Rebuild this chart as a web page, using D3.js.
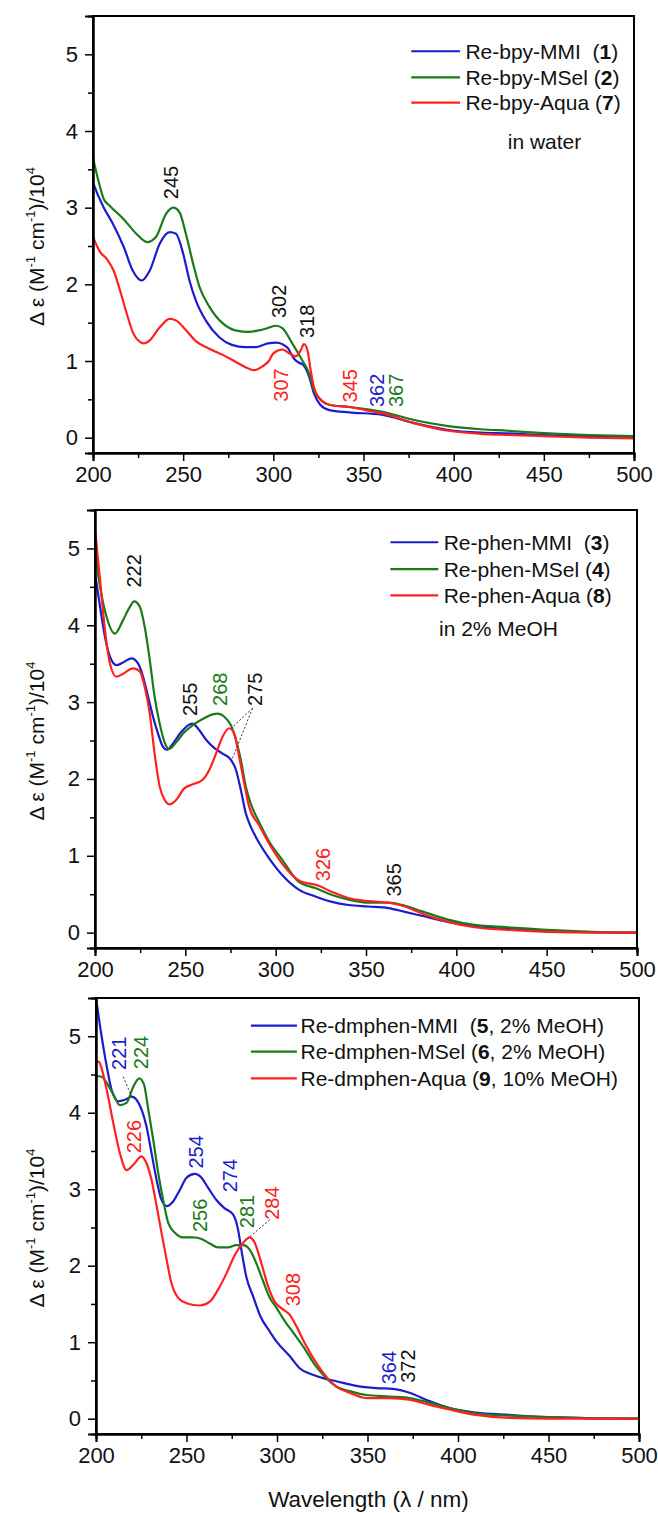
<!DOCTYPE html>
<html>
<head>
<meta charset="utf-8">
<script src="https://cdn.jsdelivr.net/npm/d3@7"></script>
<style>
  html, body { margin: 0; padding: 0; background: #fff; }
  svg { display: block; font-family: Arial, "Liberation Sans", sans-serif; }
  text { white-space: pre; }
</style>
</head>
<body>
<svg id="chart" width="658" height="1513"></svg>
<script>
// ---- data (wavelength nm, Δε / 10^4) ----
const xTicks = [200, 250, 300, 350, 400, 450, 500];
const xMinor = [225, 275, 325, 375, 425, 475];
const yTicks = [0, 1, 2, 3, 4, 5];
const yMinor = [0.5, 1.5, 2.5, 3.5, 4.5];

// panel 1: bpy, in water
const bpyMMI = [[200,3.33],[203,3.15],[206,3.0],[211,2.79],[217,2.49],[222,2.18],[227,2.05],[231.5,2.18],[237,2.53],[242.5,2.68],[246,2.66],[250,2.40],[253.5,2.05],[257,1.79],[262.5,1.53],[270,1.31],[277,1.21],[284.5,1.18],[290,1.18],[297,1.23],[301.5,1.24],[305,1.22],[308,1.17],[311.5,1.03],[314,0.98],[316.5,0.95],[319.8,0.80],[322.5,0.58],[326,0.43],[331,0.36],[342,0.33],[360,0.30],[378,0.19],[397,0.10],[415,0.065],[430,0.055],[450,0.035],[475,0.02],[500,0.01]];
const bpyMSel = [[200,3.65],[203,3.35],[206,3.11],[209.5,3.02],[217,2.85],[224,2.66],[230,2.55],[235,2.62],[240.5,2.92],[244.5,3.0],[248,2.94],[251.5,2.66],[255.5,2.27],[259,1.97],[264.5,1.71],[272,1.49],[279,1.40],[286.5,1.38],[292,1.40],[297,1.43],[301.5,1.46],[305,1.43],[310.5,1.23],[316,1.01],[319.8,0.84],[322.5,0.62],[325.3,0.52],[331,0.43],[342,0.40],[360,0.34],[378,0.23],[397,0.15],[415,0.11],[430,0.09],[450,0.06],[475,0.035],[500,0.02]];
const bpyAqua = [[200,2.62],[204,2.42],[207.7,2.33],[211.4,2.18],[215,1.92],[218.7,1.62],[222.3,1.36],[226,1.25],[228,1.23],[231.5,1.27],[237,1.44],[242.5,1.55],[246,1.53],[251.6,1.40],[257,1.26],[264.5,1.16],[272,1.08],[279,0.99],[284.6,0.92],[289.2,0.88],[294,0.93],[297.5,1.0],[300,1.10],[305,1.15],[308.8,1.10],[312.4,1.06],[315.2,1.14],[317,1.22],[318.9,1.14],[320.7,0.88],[322.5,0.66],[325.3,0.52],[331,0.43],[342,0.40],[351,0.36],[360,0.32],[378,0.19],[397,0.09],[415,0.05],[430,0.035],[450,0.02],[475,0.0],[500,-0.01]];

// panel 2: phen, in 2% MeOH
const phenMMI = [[200,4.68],[202.8,4.24],[205.5,3.85],[208.3,3.59],[211.9,3.48],[216.5,3.53],[220.2,3.57],[223.9,3.50],[226.6,3.33],[229.4,3.07],[232.1,2.81],[234.9,2.59],[237.6,2.42],[239.8,2.38],[243.1,2.46],[247.7,2.61],[252.3,2.71],[254.1,2.72],[256.9,2.66],[261.5,2.51],[266.1,2.40],[270.6,2.33],[275.2,2.25],[278,2.12],[280.7,1.86],[283.5,1.55],[286.2,1.38],[290.8,1.17],[296.3,0.97],[303.6,0.75],[312.8,0.56],[322,0.47],[331.2,0.40],[340.3,0.36],[351.3,0.34],[362.4,0.32],[371.5,0.27],[380.7,0.22],[395.4,0.14],[410,0.08],[428.4,0.05],[450,0.02],[475,0.005],[500,0]];
const phenMSel = [[200,4.96],[202.8,4.50],[206.4,4.11],[211,3.89],[215.6,4.07],[219.3,4.24],[221.7,4.31],[224.8,4.24],[227.5,3.98],[230.3,3.55],[233,3.07],[235.8,2.72],[238.5,2.48],[240.9,2.39],[245,2.48],[249.5,2.61],[254.1,2.70],[259.6,2.78],[265.1,2.84],[267.9,2.85],[271.6,2.81],[275.2,2.70],[278,2.51],[280.7,2.25],[283.5,1.90],[286.2,1.68],[290.8,1.44],[296.3,1.19],[303.6,0.95],[312.8,0.66],[322,0.58],[331.2,0.49],[340.3,0.43],[351.3,0.39],[362.4,0.39],[371.5,0.35],[380.7,0.28],[395.4,0.17],[410,0.10],[428.4,0.07],[450,0.035],[475,0.01],[500,0]];
const phenAqua = [[200,5.25],[202.8,4.59],[205.5,3.94],[208.3,3.50],[211.9,3.33],[215.6,3.37],[221.1,3.44],[224.8,3.40],[227.5,3.20],[230.3,2.85],[233,2.33],[235.8,1.90],[238.5,1.73],[241.3,1.67],[245,1.73],[249.5,1.88],[254.1,1.93],[259.6,1.99],[263.3,2.12],[267,2.33],[270.6,2.55],[274.3,2.66],[277.1,2.59],[279.8,2.29],[282.6,1.94],[285.3,1.64],[290.8,1.40],[296.3,1.16],[303.6,0.90],[312.8,0.68],[323.8,0.61],[331.2,0.53],[340.3,0.45],[351.3,0.41],[362.4,0.39],[371.5,0.34],[380.7,0.25],[395.4,0.14],[410,0.07],[428.4,0.035],[450,0.01],[475,0],[500,0]];

// panel 3: dmphen
const dmMMI = [[200,5.5],[203.1,5.0],[205.9,4.61],[208.6,4.30],[212.3,4.15],[216,4.17],[219.7,4.21],[222.4,4.17],[225.2,4.04],[227.9,3.82],[230.7,3.47],[233.5,3.12],[236.2,2.86],[239,2.78],[242.6,2.84],[246.3,2.99],[250,3.15],[254.6,3.20],[258.3,3.15],[261.9,3.02],[266.5,2.86],[271.1,2.75],[275.7,2.67],[278.5,2.47],[280.3,2.21],[283.1,1.85],[286.8,1.60],[291,1.33],[296,1.14],[300,1.0],[307,0.82],[312.5,0.66],[319,0.58],[325.4,0.53],[332.8,0.49],[343.8,0.43],[354.8,0.40],[364,0.39],[373.2,0.34],[384.2,0.23],[395.3,0.14],[410,0.08],[428.4,0.05],[450,0.02],[475,0.005],[500,0]];
const dmMSel = [[200,4.48],[203.1,4.47],[205.9,4.39],[209.6,4.24],[213.2,4.10],[216.9,4.13],[220.6,4.34],[223.9,4.45],[226.5,4.37],[228.9,4.04],[231.6,3.65],[234.4,3.21],[237.1,2.86],[239.9,2.56],[243.6,2.43],[248.2,2.37],[253.7,2.37],[258.3,2.35],[262.9,2.29],[267.5,2.24],[273,2.24],[277.6,2.27],[281.3,2.27],[284.9,2.21],[288.6,2.03],[292.3,1.80],[296,1.58],[299.7,1.45],[304.2,1.28],[308.8,1.13],[314.3,0.95],[321.7,0.68],[327.2,0.53],[332.8,0.42],[340.1,0.36],[349.3,0.31],[362.2,0.29],[373.2,0.27],[384.2,0.21],[395.3,0.14],[410,0.07],[428.4,0.04],[450,0.02],[475,0.005],[500,0]];
const dmAqua = [[200,4.65],[201.5,4.67],[203.1,4.58],[205.9,4.30],[209.6,3.86],[213.2,3.47],[216.9,3.25],[220.6,3.32],[225.2,3.43],[227.9,3.34],[230.7,3.12],[233.5,2.78],[236.2,2.43],[239,2.08],[241.7,1.77],[245.4,1.58],[250,1.51],[257.4,1.48],[262.9,1.53],[267.5,1.69],[272.1,1.90],[276.7,2.14],[281.3,2.30],[284.9,2.37],[287.7,2.30],[291.4,2.03],[295.1,1.73],[298.7,1.53],[303.3,1.43],[307,1.36],[310.7,1.21],[315.3,0.99],[321.7,0.73],[327.2,0.55],[332.8,0.42],[340.1,0.34],[349.3,0.27],[362.2,0.27],[373.2,0.25],[384.2,0.18],[395.3,0.12],[410,0.05],[428.4,0.01],[450,0],[500,0]];

// legend labels: name, bold compound number, tail
const bpyLegend = [["Re-bpy-MMI  (", "1", ")"], ["Re-bpy-MSel (", "2", ")"], ["Re-bpy-Aqua (", "7", ")"]];
const phenLegend = [["Re-phen-MMI  (", "3", ")"], ["Re-phen-MSel (", "4", ")"], ["Re-phen-Aqua (", "8", ")"]];
const dmLegend = [["Re-dmphen-MMI  (", "5", ", 2% MeOH)"], ["Re-dmphen-MSel (", "6", ", 2% MeOH)"], ["Re-dmphen-Aqua (", "9", ", 10% MeOH)"]];

// peak labels: text, wavelength at label centre, Δε at label foot, series index (-1 = black)
const bpyPeaks = [["245",243.5,3.11,-1],["302",303,1.56,-1],["318",318.8,1.30,-1],["307",304,0.47,2],["345",342.5,0.46,2],["362",357.3,0.40,0],["367",368,0.40,1]];
const phenPeaks = [["222",221.8,4.49,-1],["255",252.7,2.82,-1],["268",269.4,2.95,1],["275",288.7,2.95,-1],["326",326.3,0.67,2],["365",365.5,0.47,-1]];
const dmPeaks = [["221",212.5,4.56,0],["224",224.8,4.57,1],["226",221.1,3.47,2],["254",255.2,3.27,0],["274",274,2.96,0],["256",257.7,2.44,1],["281",283.2,2.49,1],["284",297.1,2.60,2],["308",308.7,1.47,2],["364",362,0.45,0],["372",372.5,0.47,-1]];

// dashed leaders [x1,y1,x2,y2]
const phenLeaders = [[287.2,2.92,275.8,2.67],[287.2,2.92,276.1,2.27]];
const dmLeaders = [[215.1,4.47,219.7,4.21],[296,2.6,284,2.36]];

const colors = ["#1c1ccc", "#1a7a1a", "#ff2020"];

const panels = [
  { series: [bpyMMI, bpyMSel, bpyAqua], legend: bpyLegend, peaks: bpyPeaks, leaders: [],
    box: { left: 93, right: 634, top: 16, bottom: 453 },
    leg: { x1: 376.5, x2: 403.5, tx: 406.5, rows: [5.04, 4.70, 4.37] }, note: { text: "in water", x: 430, y: 3.86 } },
  { series: [phenMMI, phenMSel, phenAqua], legend: phenLegend, peaks: phenPeaks, leaders: phenLeaders,
    box: { left: 95, right: 637, top: 510, bottom: 948 },
    leg: { x1: 363.5, x2: 390, tx: 393, rows: [5.08, 4.73, 4.39] }, note: { text: "in 2% MeOH", x: 390.4, y: 3.96 } },
  { series: [dmMMI, dmMSel, dmAqua], legend: dmLegend, peaks: dmPeaks, leaders: dmLeaders,
    box: { left: 96, right: 639, top: 998, bottom: 1434 },
    leg: { x1: 285.6, x2: 311, tx: 313, rows: [5.14, 4.80, 4.45] }, note: null, xTitle: true }
];

const svg = d3.select("#chart");

panels.forEach(p => {
  const b = p.box;
  const x = d3.scaleLinear().domain([200, 500]).range([b.left, b.right]);
  const y = d3.scaleLinear().domain([-0.2, 5.5]).range([b.bottom, b.top]);
  const g = svg.append("g");

  // clip curves to the frame
  const clipId = "clip" + b.top;
  g.append("clipPath").attr("id", clipId)
    .append("rect").attr("x", b.left).attr("y", b.top)
    .attr("width", b.right - b.left).attr("height", b.bottom - b.top);

  // curves
  const line = d3.line().x(d => x(d[0])).y(d => y(d[1])).curve(d3.curveMonotoneX);
  const curves = g.append("g").attr("clip-path", `url(#${clipId})`);
  p.series.forEach((s, i) => {
    curves.append("path").datum(s)
      .attr("fill", "none").attr("stroke", colors[i])
      .attr("stroke-width", 2.2).attr("stroke-linejoin", "round")
      .attr("d", line);
  });

  // frame top/right
  g.append("rect").attr("x", b.left).attr("y", b.top)
    .attr("width", b.right - b.left).attr("height", b.bottom - b.top)
    .attr("fill", "none").attr("stroke", "#000").attr("stroke-width", 2);

  // axes
  g.append("g").attr("transform", `translate(0,${b.bottom})`)
    .call(d3.axisBottom(x).tickValues(xTicks).tickSize(8).tickPadding(5).tickFormat(d3.format("d")));
  g.append("g").attr("transform", `translate(0,${b.bottom})`)
    .call(d3.axisBottom(x).tickValues(xMinor).tickSize(5).tickFormat(""));
  g.append("g").attr("transform", `translate(${b.left},0)`)
    .call(d3.axisLeft(y).tickValues(yTicks).tickSize(8).tickPadding(7).tickFormat(d3.format("d")));
  g.append("g").attr("transform", `translate(${b.left},0)`)
    .call(d3.axisLeft(y).tickValues(yMinor).tickSize(5).tickFormat(""));
  g.selectAll(".domain").attr("stroke-width", 2);
  g.selectAll(".tick line").attr("stroke-width", 1.5);
  g.selectAll(".tick text").attr("font-size", 22).attr("font-family", "Arial, 'Liberation Sans', sans-serif").attr("fill", "#111");

  // y title
  const yt = g.append("text")
    .attr("transform", `translate(44,${(b.top + b.bottom) / 2 + 12}) rotate(-90)`)
    .attr("text-anchor", "middle").attr("font-size", 21).attr("fill", "#111");
  yt.append("tspan").text("Δ ε (M");
  yt.append("tspan").text("-1").attr("font-size", 13).attr("dy", -9);
  yt.append("tspan").text(" cm").attr("dy", 9);
  yt.append("tspan").text("-1").attr("font-size", 13).attr("dy", -9);
  yt.append("tspan").text(")/10").attr("dy", 9);
  yt.append("tspan").text("4").attr("font-size", 13).attr("dy", -9);

  if (p.xTitle) {
    g.append("text").attr("x", x(350.5)).attr("y", 1507)
      .attr("text-anchor", "middle").attr("font-size", 22.5).attr("fill", "#111")
      .text("Wavelength (λ / nm)");
  }

  // legend
  p.legend.forEach((l, i) => {
    const ry = y(p.leg.rows[i]);
    g.append("line").attr("x1", x(p.leg.x1)).attr("x2", x(p.leg.x2))
      .attr("y1", ry).attr("y2", ry).attr("stroke", colors[i]).attr("stroke-width", 2.2);
    const t = g.append("text").attr("x", x(p.leg.tx)).attr("y", ry)
      .attr("dy", "0.36em").attr("font-size", 21).attr("fill", "#111");
    t.append("tspan").text(l[0]);
    t.append("tspan").text(l[1]).attr("font-weight", "bold");
    t.append("tspan").text(l[2]);
  });
  if (p.note) {
    g.append("text").attr("x", x(p.note.x)).attr("y", y(p.note.y))
      .attr("dy", "0.36em").attr("font-size", 21).attr("fill", "#111").text(p.note.text);
  }

  // dashed leaders
  p.leaders.forEach(d => {
    g.append("line").attr("x1", x(d[0])).attr("y1", y(d[1]))
      .attr("x2", x(d[2])).attr("y2", y(d[3]))
      .attr("stroke", "#333").attr("stroke-width", 1).attr("stroke-dasharray", "2,2");
  });

  // peak labels (rotated)
  p.peaks.forEach(d => {
    g.append("text")
      .attr("transform", `translate(${x(d[1])},${y(d[2])}) rotate(-90)`)
      .attr("dominant-baseline", "central")
      .attr("font-size", 20)
      .attr("fill", d[3] < 0 ? "#111" : colors[d[3]])
      .text(d[0]);
  });
});
</script>
</body>
</html>
